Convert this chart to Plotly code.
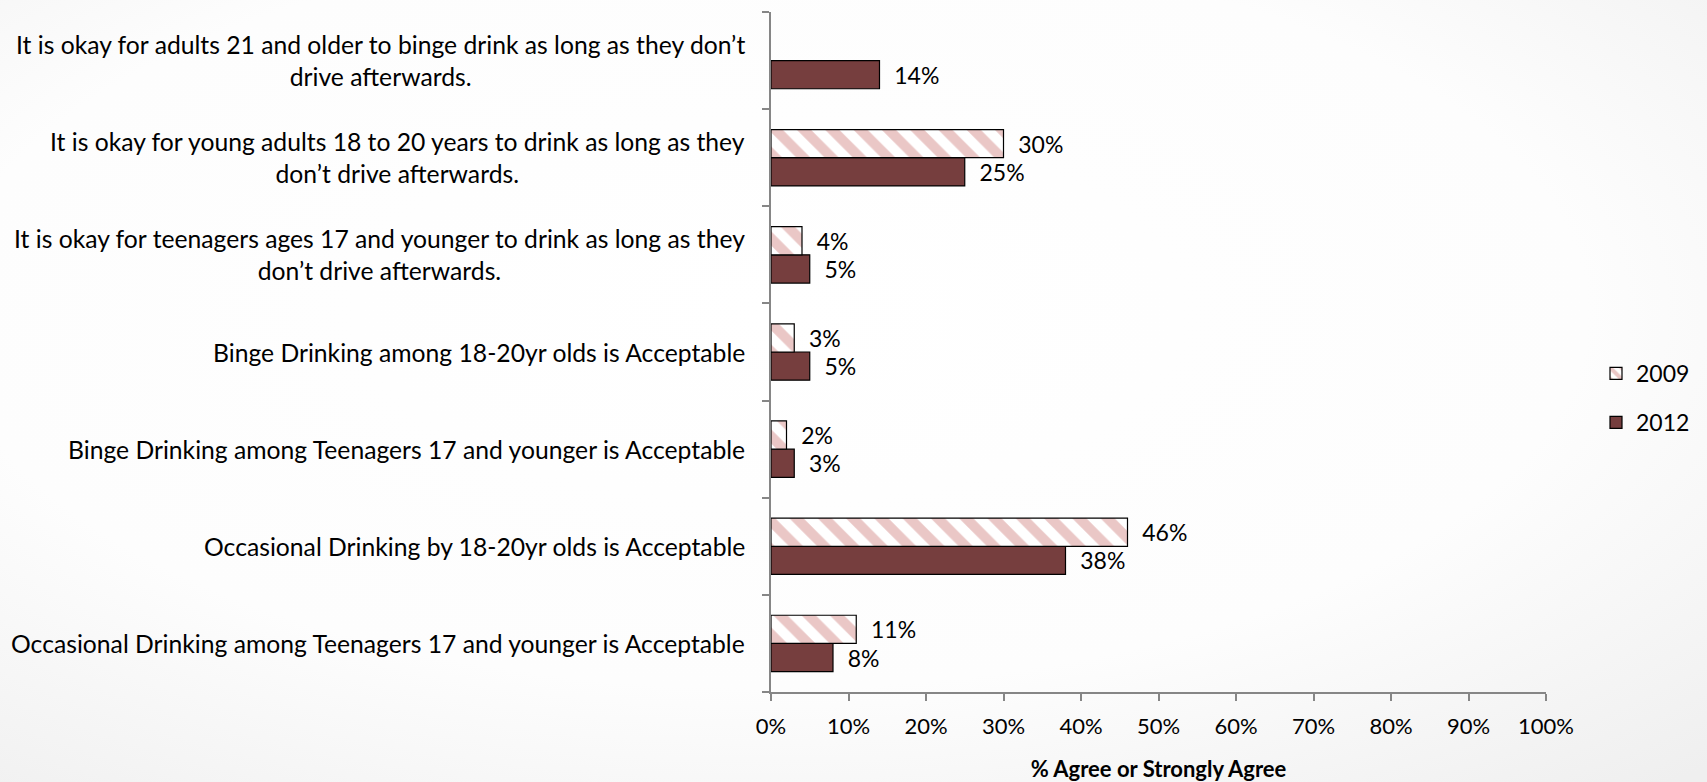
import base64
import plotly.graph_objects as go

categories = [
    "It is okay for adults 21 and older to binge drink as long as they don\u2019t<br>drive afterwards.",
    "It is okay for young adults 18 to 20 years to drink as long as they<br>don\u2019t drive afterwards.",
    "It is okay for teenagers ages 17 and younger to drink as long as they<br>don\u2019t drive afterwards.",
    "Binge Drinking among 18-20yr olds is Acceptable",
    "Binge Drinking among Teenagers 17 and younger is Acceptable",
    "Occasional Drinking by 18-20yr olds is Acceptable",
    "Occasional Drinking among Teenagers 17 and younger is Acceptable",
]
values_2009 = [None, 30, 4, 3, 2, 46, 11]
values_2012 = [14, 25, 5, 5, 3, 38, 8]
x_ticks = [0, 10, 20, 30, 40, 50, 60, 70, 80, 90, 100]
x_tick_labels = [f"{t}%" for t in x_ticks]

FONT = "Lato"
W, H = 1707, 782
ML, MR, MT, MB = 771, 161, 12, 90
PW, PH = W - ML - MR, H - MT - MB


def labels(vals):
    return ["" if v is None else f"\u00a0\u00a0{v}%" for v in vals]


fig = go.Figure()
fig.add_trace(go.Bar(
    name="2012", y=categories, x=values_2012, orientation="h",
    marker=dict(color="#763e3e", line=dict(color="#000000", width=1.2)),
    text=labels(values_2012), textposition="outside", cliponaxis=False,
    textfont=dict(family=FONT, size=23, color="#000000"),
    legendgroup="b", legendrank=2,
))
fig.add_trace(go.Bar(
    name="2009", y=categories, x=values_2009, orientation="h",
    marker=dict(color="#ffffff", line=dict(color="#000000", width=1.2),
                pattern=dict(shape="\\", fgcolor="#d68f8d", bgcolor="#ffffff",
                             size=20, solidity=0.5)),
    text=labels(values_2009), textposition="outside", cliponaxis=False,
    textfont=dict(family=FONT, size=23, color="#000000"),
    legendgroup="a", legendrank=1,
))

for c in categories:
    fig.add_annotation(
        x=0, xref="paper", y=c, yref="y", xanchor="right", yanchor="middle",
        xshift=-24, text=c, align="center", showarrow=False,
        font=dict(family=FONT, size=24.7, color="#000000"),
    )

svg = (
    '<svg xmlns="http://www.w3.org/2000/svg" width="1707" height="782" preserveAspectRatio="none">'
    '<defs><radialGradient id="g" cx="45%" cy="40%" r="80%">'
    '<stop offset="0%" stop-color="#ffffff"/><stop offset="60%" stop-color="#fdfdfd"/>'
    '<stop offset="100%" stop-color="#efefef"/></radialGradient></defs>'
    '<rect width="1707" height="782" fill="url(#g)"/></svg>'
)
src = "data:image/svg+xml;base64," + base64.b64encode(svg.encode()).decode()
fig.add_layout_image(
    source=src, xref="paper", yref="paper", x=-ML / PW, y=1 + MT / PH,
    sizex=W / PW, sizey=H / PH, sizing="stretch", layer="below",
    xanchor="left", yanchor="top",
)

fig.update_layout(
    width=W, height=H,
    margin=dict(l=ML, r=MR, t=MT, b=MB, autoexpand=False),
    paper_bgcolor="#ffffff", plot_bgcolor="rgba(0,0,0,0)",
    barmode="group", bargap=0.42, bargroupgap=0,
    font=dict(family=FONT, size=22, color="#000000"),
    showlegend=True,
    legend=dict(x=(1596 - ML) / PW, y=(H - MB - 398) / PH, xanchor="left",
                yanchor="middle", traceorder="grouped",
                tracegroupgap=16, bgcolor="rgba(0,0,0,0)",
                font=dict(family=FONT, size=23, color="#000000"),
                itemwidth=30),
    xaxis=dict(
        range=[0, 100], tickvals=x_ticks, ticktext=x_tick_labels,
        showgrid=False, zeroline=False, showline=True, linecolor="#868686",
        linewidth=1.5, ticks="outside", ticklen=7, tickcolor="#868686",
        tickwidth=1.5, tickfont=dict(family=FONT, size=22, color="#000000"),
        ticklabelstandoff=7,
        title=dict(text="<b>% Agree or Strongly Agree</b>", standoff=23,
                   font=dict(family=FONT, size=22, color="#000000")),
        fixedrange=True,
    ),
    yaxis=dict(
        categoryorder="array", categoryarray=categories[::-1],
        showticklabels=False, showgrid=False, zeroline=False,
        showline=True, linecolor="#868686", linewidth=1.5,
        ticks="outside", tickson="boundaries", ticklen=7,
        tickcolor="#868686", tickwidth=1.5, fixedrange=True,
    ),
)

fig.write_html("out.html", config={"displayModeBar": False},
               post_script="document.body.style.margin='0';")
